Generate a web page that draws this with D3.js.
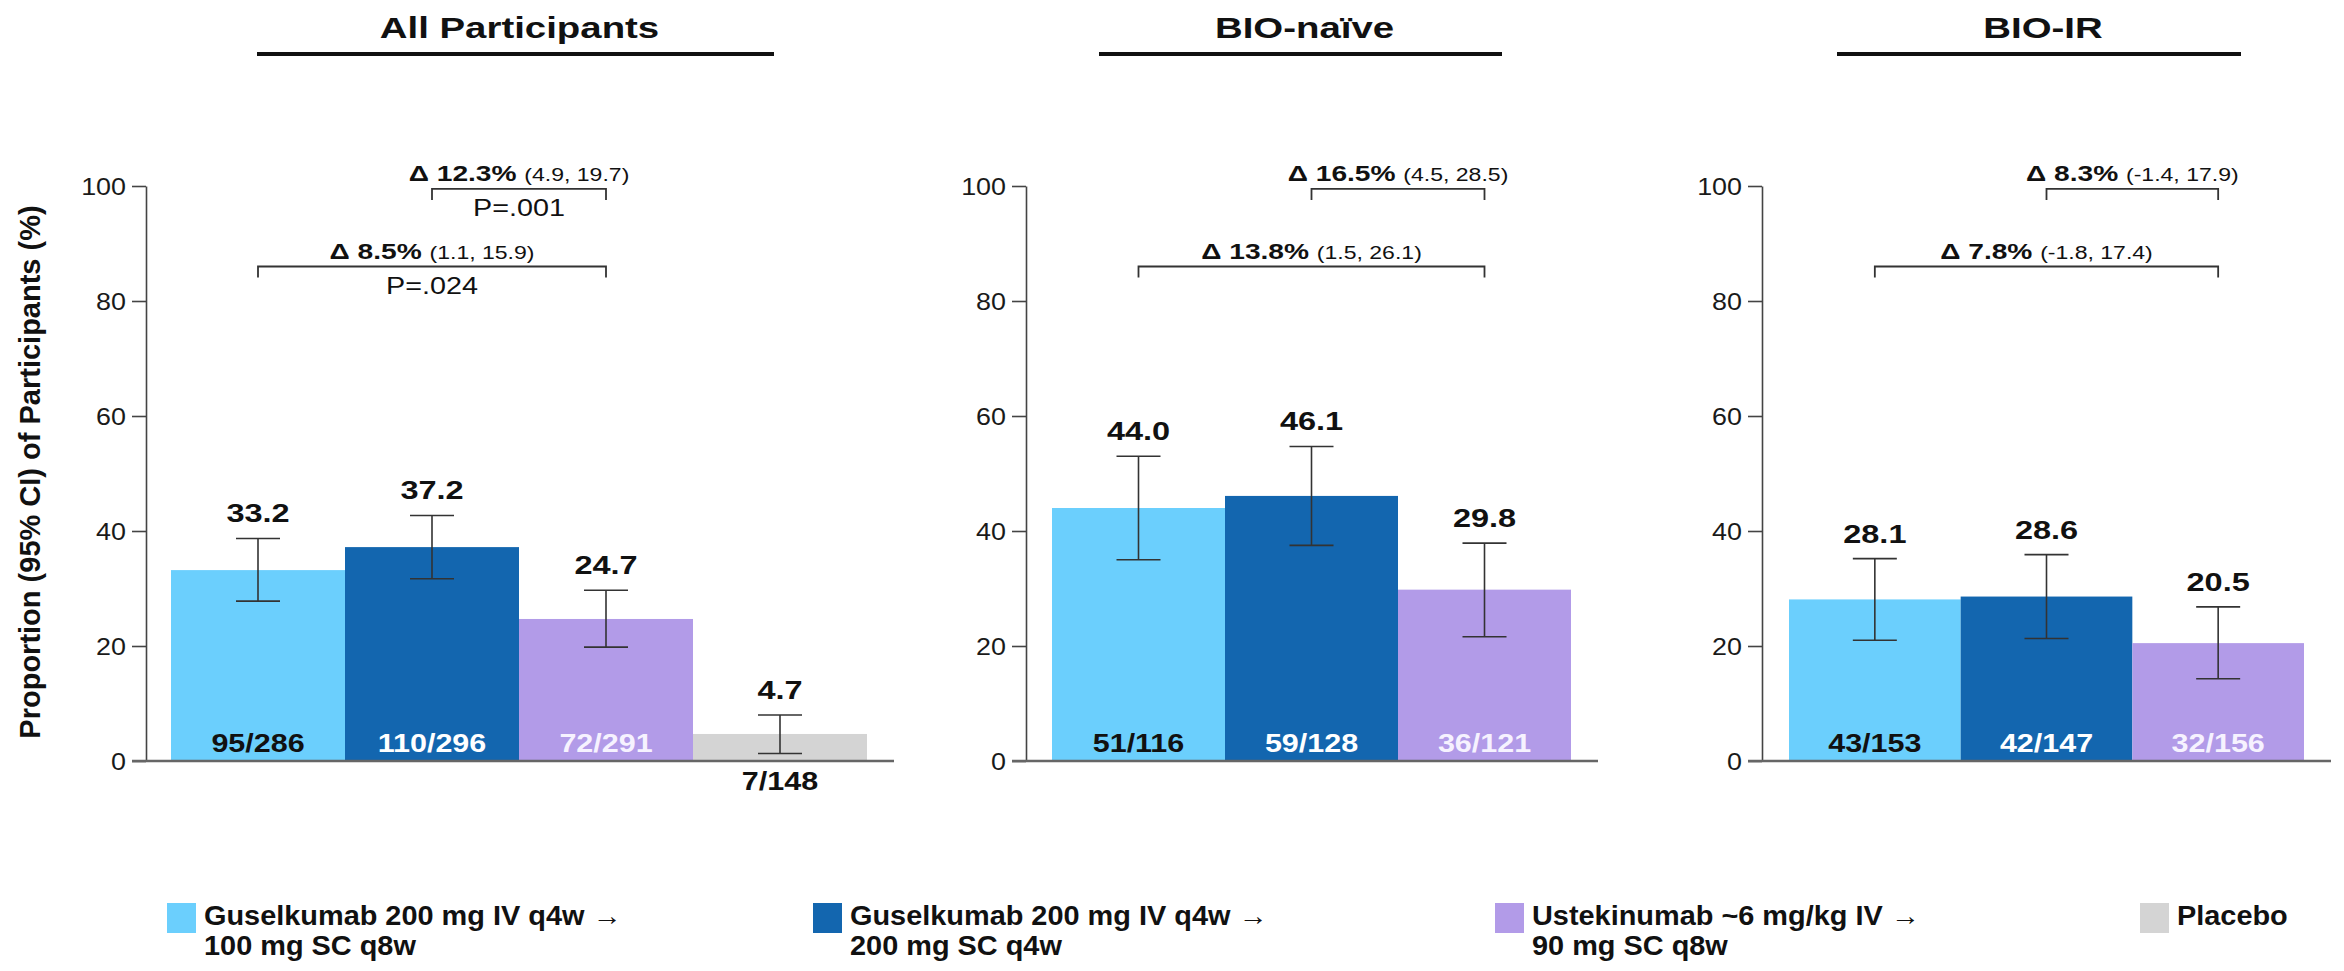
<!DOCTYPE html>
<html>
<head>
<meta charset="utf-8">
<script src="https://cdn.jsdelivr.net/npm/d3@7"></script>
<style>
  body { margin: 0; background: #fff; }
  svg { display: block; }
</style>
</head>
<body>
<svg id="chart" width="2344" height="971"></svg>
<script>
// ---- Data -------------------------------------------------------------
const subgroupNames = ["All Participants", "BIO-naïve", "BIO-IR"];

const armLabels = [
  ["Guselkumab 200 mg IV q4w →", "100 mg SC q8w"],
  ["Guselkumab 200 mg IV q4w →", "200 mg SC q4w"],
  ["Ustekinumab ~6 mg/kg IV →", "90 mg SC q8w"],
  ["Placebo"]
];
const armColors = ["#6bcffd", "#1366af", "#b29be8", "#d4d4d4"];
const countColors = ["#111111", "#ffffff", "#f6f2ff", "#111111"];

const yTickValues = [0, 20, 40, 60, 80, 100];

// All participants
const allPct = [33.2, 37.2, 24.7, 4.7];
const allLow = [27.8, 31.7, 19.8, 1.3];
const allHigh = [38.7, 42.7, 29.7, 8.0];
const allCounts = ["95/286", "110/296", "72/291", "7/148"];

// BIO-naïve
const naivePct = [44.0, 46.1, 29.8];
const naiveLow = [35.0, 37.5, 21.6];
const naiveHigh = [53.0, 54.7, 37.9];
const naiveCounts = ["51/116", "59/128", "36/121"];

// BIO-IR
const irPct = [28.1, 28.6, 20.5];
const irLow = [21.0, 21.3, 14.3];
const irHigh = [35.2, 35.9, 26.8];
const irCounts = ["43/153", "42/147", "32/156"];

// Pairwise comparisons versus ustekinumab (arm index 2)
const comparisonFrom = [1, 0];
const comparisonTo = [2, 2];
const comparisonLevel = [99.5, 86.0];
const allDelta = ["12.3%", "8.5%"];
const allDeltaCI = ["(4.9, 19.7)", "(1.1, 15.9)"];
const allP = ["P=.001", "P=.024"];
const naiveDelta = ["16.5%", "13.8%"];
const naiveDeltaCI = ["(4.5, 28.5)", "(1.5, 26.1)"];
const irDelta = ["8.3%", "7.8%"];
const irDeltaCI = ["(-1.4, 17.9)", "(-1.8, 17.4)"];

// ---- Layout -----------------------------------------------------------
const panelLayout = [
  { axisX: 146, bars: [171, 867], baseEnd: 894, ruleX: [257, 774] },
  { axisX: 1026, bars: [1052, 1571], baseEnd: 1598, ruleX: [1099, 1502] },
  { axisX: 1762, bars: [1789, 2304], baseEnd: 2331, ruleX: [1837, 2241] }
];

const panelData = [
  { pct: allPct, low: allLow, high: allHigh, counts: allCounts,
    delta: allDelta, deltaCI: allDeltaCI, p: allP },
  { pct: naivePct, low: naiveLow, high: naiveHigh, counts: naiveCounts,
    delta: naiveDelta, deltaCI: naiveDeltaCI, p: null },
  { pct: irPct, low: irLow, high: irHigh, counts: irCounts,
    delta: irDelta, deltaCI: irDeltaCI, p: null }
];

const FONT = "'Liberation Sans', Arial, Helvetica, sans-serif";
const svg = d3.select("#chart");

const y = d3.scaleLinear().domain([0, 100]).range([761, 186]);

// Text placed with a slight horizontal widening, like an extended grotesque
function label(g, x, yPos, str, opt) {
  const t = g.append("text")
    .attr("transform", `translate(${x},${yPos}) scale(${opt.sx || 1},1)`)
    .attr("text-anchor", opt.anchor || "middle")
    .attr("font-family", FONT)
    .attr("font-size", opt.size)
    .attr("font-weight", opt.weight || "normal")
    .attr("fill", opt.fill || "#111");
  if (str !== null) t.text(str);
  return t;
}

panelData.forEach((d, pi) => {
  const L = panelLayout[pi];
  const g = svg.append("g");
  const n = d.pct.length;
  const x = d3.scaleBand().domain(d3.range(n)).range(L.bars).paddingInner(0).paddingOuter(0);

  // Subgroup heading and rule
  const ruleMid = (L.ruleX[0] + L.ruleX[1]) / 2;
  label(g, ruleMid + 4, 38, subgroupNames[pi], { size: 30, weight: "bold", sx: 1.28 });
  g.append("line")
    .attr("x1", L.ruleX[0]).attr("x2", L.ruleX[1])
    .attr("y1", 54).attr("y2", 54)
    .attr("stroke", "#111").attr("stroke-width", 4);

  // Bars
  g.selectAll("rect.bar").data(d3.range(n)).join("rect")
    .attr("class", "bar")
    .attr("x", i => x(i))
    .attr("width", x.bandwidth())
    .attr("y", i => y(d.pct[i]))
    .attr("height", i => y(0) - y(d.pct[i]))
    .attr("fill", i => armColors[i]);

  // Confidence intervals
  const capHalf = 22;
  d3.range(n).forEach(i => {
    const cx = x(i) + x.bandwidth() / 2;
    const eg = g.append("g").attr("stroke", "#333").attr("stroke-width", 1.6);
    eg.append("line").attr("x1", cx).attr("x2", cx)
      .attr("y1", y(d.low[i])).attr("y2", y(d.high[i]));
    eg.append("line").attr("x1", cx - capHalf).attr("x2", cx + capHalf)
      .attr("y1", y(d.high[i])).attr("y2", y(d.high[i]));
    eg.append("line").attr("x1", cx - capHalf).attr("x2", cx + capHalf)
      .attr("y1", y(d.low[i])).attr("y2", y(d.low[i]));

    // Value above interval
    label(g, cx, y(d.high[i]) - 16, d.pct[i].toFixed(1), { size: 25, weight: "bold", sx: 1.3 });

    // Responder count inside bar (below axis for short bars)
    const inside = (y(0) - y(d.pct[i])) > 40;
    label(g, cx, inside ? y(0) - 9 : y(0) + 29, d.counts[i],
      { size: 25, weight: "bold", sx: 1.22, fill: countColors[i] });
  });

  // Y axis
  const axis = d3.axisLeft(y).tickValues(yTickValues).tickSize(14).tickSizeOuter(0).tickPadding(5);
  const ag = g.append("g").attr("transform", `translate(${L.axisX},0)`).call(axis);
  ag.select(".domain").attr("stroke", "#444").attr("stroke-width", 1.6);
  ag.selectAll(".tick line").attr("stroke", "#444").attr("stroke-width", 1.6);
  ag.selectAll(".tick text").remove();
  yTickValues.forEach(v => {
    label(ag, -20, y(v) + 8.5, String(v), { size: 24, anchor: "end", sx: 1.12, fill: "#1a1a1a" });
  });

  // Baseline
  g.append("line")
    .attr("x1", L.axisX - 14).attr("x2", L.baseEnd)
    .attr("y1", y(0)).attr("y2", y(0))
    .attr("stroke", "#666").attr("stroke-width", 2.6);

  // Comparison brackets
  comparisonFrom.forEach((from, k) => {
    const x1 = x(from) + x.bandwidth() / 2;
    const x2 = x(comparisonTo[k]) + x.bandwidth() / 2;
    const ly = y(comparisonLevel[k]);
    g.append("path")
      .attr("d", `M${x1},${ly + 11}V${ly}H${x2}V${ly + 11}`)
      .attr("fill", "none").attr("stroke", "#333").attr("stroke-width", 1.8);
    const mid = (x1 + x2) / 2;
    const t = label(g, mid, ly - 8, null, { size: 22, weight: "bold", sx: 1.28 });
    t.append("tspan").text("Δ " + d.delta[k] + " ");
    t.append("tspan").attr("font-weight", "normal").attr("font-size", 18).text(d.deltaCI[k]);
    if (d.p) {
      label(g, mid, ly + 27, d.p[k], { size: 23, sx: 1.25 });
    }
  });
});

// Y axis title
svg.append("text")
  .attr("transform", "translate(40,472) rotate(-90)")
  .attr("text-anchor", "middle")
  .attr("font-family", FONT)
  .attr("font-size", 29)
  .attr("font-weight", "bold")
  .attr("fill", "#111")
  .text("Proportion (95% CI) of Participants (%)");

// Legend
const legendX = [167, 813, 1495, 2140];
const lg = svg.append("g");
armLabels.forEach((lines, i) => {
  lg.append("rect")
    .attr("x", legendX[i]).attr("y", 903)
    .attr("width", 29).attr("height", 30)
    .attr("fill", armColors[i]);
  lines.forEach((s, j) => {
    label(lg, legendX[i] + 37, 925 + j * 30, s, { size: 27, weight: "bold", anchor: "start", sx: 1.07 });
  });
});
</script>
</body>
</html>
